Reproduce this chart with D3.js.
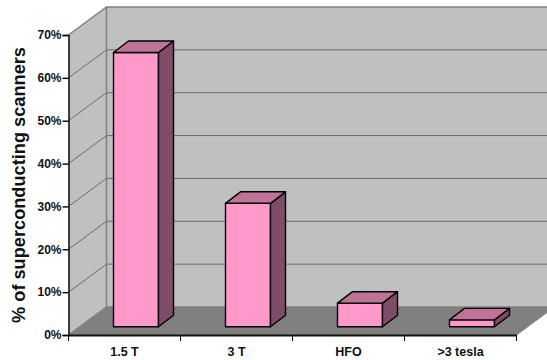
<!DOCTYPE html>
<html>
<head>
<meta charset="utf-8">
<style>
html,body{margin:0;padding:0;background:#fff}
svg{display:block}
text{font-family:"Liberation Sans",Arial,sans-serif;font-weight:bold;fill:#111}
</style>
<script src="https://cdn.jsdelivr.net/npm/d3@7/dist/d3.min.js"></script>
</head>
<body>
<svg id="chart" width="547" height="360"></svg>
<script>
// Field strength categories and their share of installed scanners (%)
const categories = ["1.5 T", "3 T", "HFO", ">3 tesla"];
const shares = [64, 28.8, 5.5, 1.6];
const percentTicks = [0, 10, 20, 30, 40, 50, 60, 70];
const yTitle = "% of superconducting scanners";

const svg = d3.select("#chart");
const x = d3.scaleBand().domain(categories).range([68.5, 516.5]);
const y = d3.scaleLinear().domain([0, 70]).range([335, 35]);

// Oblique projection offset of the chart box and of each bar
const depth = {dx: 38, dy: -28};
const barDepth = {dx: 15, dy: -11.5};
const barWidth = 45;
const [x0, x1] = x.range();
const [y0, y70] = y.range();
const poly = pts => pts.map(p => p.join(",")).join(" ");
const wallStroke = "#808080", gridStroke = "#6a6a6a";

// Side wall, back wall and floor
svg.append("polygon")
  .attr("points", poly([[x0, y0], [x0 + depth.dx, y0 + depth.dy], [x0 + depth.dx, y70 + depth.dy], [x0, y70]]))
  .attr("fill", "#c0c0c0");
svg.append("polygon")
  .attr("points", poly([[x0 + depth.dx, y0 + depth.dy], [x1 + depth.dx, y0 + depth.dy], [x1 + depth.dx, y70 + depth.dy], [x0 + depth.dx, y70 + depth.dy]]))
  .attr("fill", "#c0c0c0");
svg.append("polygon")
  .attr("points", poly([[x0, y0], [x0 + depth.dx, y0 + depth.dy], [x1 + depth.dx, y0 + depth.dy], [x1, y0]]))
  .attr("fill", "#808080");

// Gridlines run along the side wall and across the back wall
const grid = svg.append("g").attr("fill", "none").attr("stroke", gridStroke).attr("stroke-width", 1);
grid.selectAll("polyline").data(percentTicks).join("polyline")
  .attr("stroke", d => d === 70 || d === 0 ? wallStroke : gridStroke)
  .attr("stroke-width", d => d === 0 || d === 70 ? 1.5 : 1)
  .attr("points", d => poly([[x0, y(d)], [x0 + depth.dx, y(d) + depth.dy], [x1 + depth.dx, y(d) + depth.dy]]));
svg.append("line")
  .attr("x1", x0 + depth.dx).attr("x2", x0 + depth.dx)
  .attr("y1", y0 + depth.dy).attr("y2", y70 + depth.dy)
  .attr("stroke", wallStroke).attr("stroke-width", 1.5);
svg.append("line")
  .attr("x1", x1).attr("y1", y0)
  .attr("x2", x1 + depth.dx).attr("y2", y0 + depth.dy)
  .attr("stroke", wallStroke);

// Each bar sits halfway into the floor's depth
const inset = {dx: (depth.dx - barDepth.dx) / 2, dy: (depth.dy - barDepth.dy) / 2};
const bars = svg.append("g").selectAll("g").data(categories.map((c, i) => ({c, v: shares[i]}))).join("g")
  .attr("stroke", "#000").attr("stroke-width", 1.4).attr("stroke-linejoin", "round");
const barLeft = d => x(d.c) + (x.bandwidth() - barWidth) / 2 + inset.dx;
const barBase = inset.dy + y0;
const barTop = d => y(d.v) + inset.dy;
bars.append("polygon").attr("fill", "#ff99cc")
  .attr("points", d => poly([[barLeft(d), barBase], [barLeft(d) + barWidth, barBase], [barLeft(d) + barWidth, barTop(d)], [barLeft(d), barTop(d)]]));
bars.append("polygon").attr("fill", "#804d66")
  .attr("points", d => poly([[barLeft(d) + barWidth, barBase], [barLeft(d) + barWidth + barDepth.dx, barBase + barDepth.dy], [barLeft(d) + barWidth + barDepth.dx, barTop(d) + barDepth.dy], [barLeft(d) + barWidth, barTop(d)]]));
bars.append("polygon").attr("fill", "#bf7399")
  .attr("points", d => poly([[barLeft(d), barTop(d)], [barLeft(d) + barWidth, barTop(d)], [barLeft(d) + barWidth + barDepth.dx, barTop(d) + barDepth.dy], [barLeft(d) + barDepth.dx, barTop(d) + barDepth.dy]]));

// Axes
const yAxis = d3.axisLeft(y).tickValues(percentTicks).tickFormat(d => d + "%").tickSize(6).tickPadding(1);
const yG = svg.append("g").attr("transform", `translate(${x0},0)`).call(yAxis);
yG.selectAll("path,line").attr("stroke", "#000").attr("stroke-width", 1.4);
yG.selectAll("text").style("font-size", "12px").style("font-family", '"Liberation Sans",Arial,sans-serif').style("font-weight", "bold").attr("fill", "#111");

const xAxis = d3.axisBottom(x).tickSize(0).tickPadding(12);
const xG = svg.append("g").attr("transform", `translate(0,${y0})`).call(xAxis);
xG.select("path").attr("stroke", "#111").attr("stroke-width", 2);
xG.selectAll("text").style("font-size", "12.5px").style("font-family", '"Liberation Sans",Arial,sans-serif').style("font-weight", "bold").attr("fill", "#111");
xG.append("g").selectAll("line")
  .data([...categories.map(c => x(c)), x1]).join("line")
  .attr("x1", d => d).attr("x2", d => d).attr("y1", 0).attr("y2", 6)
  .attr("stroke", "#000").attr("stroke-width", 1);

svg.append("text")
  .attr("transform", "translate(25,185) rotate(-90)")
  .attr("text-anchor", "middle")
  .style("font-size", "18.2px")
  .text(yTitle);
</script>
</body>
</html>
